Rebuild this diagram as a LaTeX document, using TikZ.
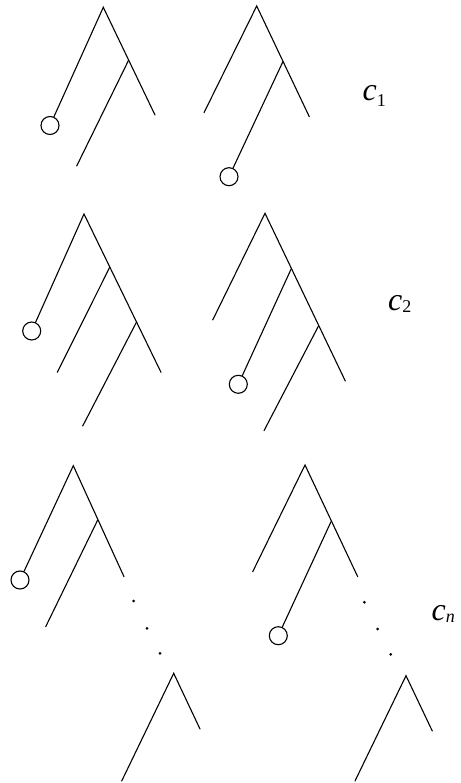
\documentclass[tikz,border=0pt]{standalone}
\usepackage{fontspec}
\setmainfont{Liberation Serif}
\begin{document}
\begin{tikzpicture}[x=1pt,y=-1pt,
  branch/.style={line width=1.1pt,line cap=round,line join=miter},
  leaf/.style={circle,draw,line width=1.1pt,minimum size=18pt,inner sep=0pt},
  dotmark/.style={circle,fill,minimum size=3pt,inner sep=0pt},
  lbl/.style={anchor=base west,inner sep=0pt,font=\fontsize{32}{36}\selectfont\itshape}]
\useasboundingbox (0,0) rectangle (460,783);
% ---- tree 1
\coordinate (A1) at (103.3,7.3);
\coordinate (N1) at (128.7,60);
\coordinate (R1) at (155,115);
\coordinate (S1) at (76.7,166);
\node[leaf] (C1) at (50,125.5) {};
\draw[branch] (C1) -- (A1) -- (R1);
\draw[branch] (N1) -- (S1);
% ---- tree 2
\coordinate (A2) at (256.7,6);
\coordinate (L2) at (204,112.7);
\coordinate (N2) at (282.9,61.7);
\coordinate (R2) at (309.3,116.7);
\node[leaf] (C2) at (229,176.7) {};
\draw[branch] (L2) -- (A2) -- (R2);
\draw[branch] (N2) -- (C2);
\node[lbl] (T1) at (362.5,100.5) {c\raisebox{-6pt}{\fontsize{18}{20}\selectfont\upshape 1}};
% ---- tree 3
\coordinate (A3) at (84,214);
\coordinate (N3a) at (109.5,267.7);
\coordinate (N3b) at (136.7,321.7);
\coordinate (R3) at (161,372.3);
\coordinate (S3a) at (57.3,372.3);
\coordinate (S3b) at (82.7,426);
\node[leaf] (C3) at (31.7,331) {};
\draw[branch] (C3) -- (A3) -- (R3);
\draw[branch] (N3a) -- (S3a);
\draw[branch] (N3b) -- (S3b);
% ---- tree 4
\coordinate (A4) at (265,213.3);
\coordinate (L4) at (212.7,320);
\coordinate (N4a) at (291,269.3);
\coordinate (N4b) at (318.5,326);
\coordinate (R4) at (345.3,381);
\coordinate (S4b) at (264,430.7);
\node[leaf] (C4) at (238.3,384.3) {};
\draw[branch] (L4) -- (A4) -- (R4);
\draw[branch] (N4a) -- (C4);
\draw[branch] (N4b) -- (S4b);
\node[lbl] (T2) at (388,310.5) {c\raisebox{-1.5pt}{\fontsize{18}{20}\selectfont\upshape 2}};
% ---- tree 5
\coordinate (A5) at (73.3,465.7);
\coordinate (N5) at (97.7,520);
\coordinate (R5) at (124,576.7);
\coordinate (S5) at (45.7,626.7);
\node[leaf] (C5) at (20,580) {};
\draw[branch] (C5) -- (A5) -- (R5);
\draw[branch] (N5) -- (S5);
\node[dotmark] (D5a) at (133.7,601) {};
\node[dotmark] (D5b) at (147,628.3) {};
\node[dotmark] (D5c) at (160,653.3) {};
\coordinate (B5) at (173.7,673.3);
\coordinate (B5r) at (200,729);
\coordinate (B5l) at (121.7,781);
\draw[branch] (B5l) -- (B5) -- (B5r);
% ---- tree 6
\coordinate (A6) at (305,465);
\coordinate (L6) at (252.7,571.7);
\coordinate (N6) at (331,521.7);
\coordinate (R6) at (357.7,576.7);
\node[leaf] (C6) at (278.3,635.7) {};
\draw[branch] (L6) -- (A6) -- (R6);
\draw[branch] (N6) -- (C6);
\node[dotmark] (D6a) at (364.3,602.3) {};
\node[dotmark] (D6b) at (377.7,629) {};
\node[dotmark] (D6c) at (390.7,654.3) {};
\coordinate (B6) at (406,675.7);
\coordinate (B6r) at (432.3,731);
\coordinate (B6l) at (355,781);
\draw[branch] (B6l) -- (B6) -- (B6r);
\node[lbl] (T3) at (431.5,620) {c\raisebox{-2pt}{\fontsize{18}{20}\selectfont n}};
\end{tikzpicture}
\end{document}
